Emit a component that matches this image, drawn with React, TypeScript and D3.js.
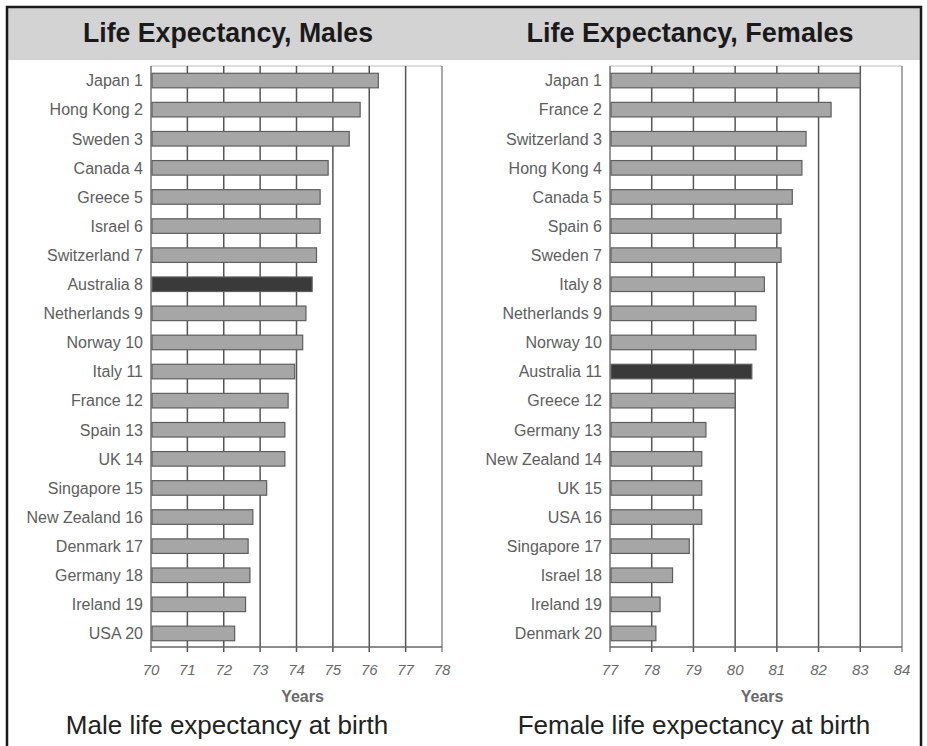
import React from "react";
import * as d3 from "d3";

const maleCountries = ["Japan 1","Hong Kong 2","Sweden 3","Canada 4","Greece 5","Israel 6","Switzerland 7","Australia 8","Netherlands 9","Norway 10","Italy 11","France 12","Spain 13","UK 14","Singapore 15","New Zealand 16","Denmark 17","Germany 18","Ireland 19","USA 20"];
const maleValues = [76.25,75.75,75.45,74.87,74.65,74.65,74.55,74.43,74.26,74.17,73.95,73.77,73.68,73.68,73.18,72.8,72.67,72.72,72.6,72.3];
const maleTicks = [70,71,72,73,74,75,76,77,78];

const femaleCountries = ["Japan 1","France 2","Switzerland 3","Hong Kong 4","Canada 5","Spain 6","Sweden 7","Italy 8","Netherlands 9","Norway 10","Australia 11","Greece 12","Germany 13","New Zealand 14","UK 15","USA 16","Singapore 17","Israel 18","Ireland 19","Denmark 20"];
const femaleValues = [83.0,82.3,81.7,81.6,81.37,81.1,81.1,80.7,80.5,80.5,80.4,80.0,79.3,79.2,79.2,79.2,78.9,78.5,78.2,78.1];
const femaleTicks = [77,78,79,80,81,82,83,84];

const titles = ["Life Expectancy, Males", "Life Expectancy, Females"];
const subtitles = ["Male life expectancy at birth", "Female life expectancy at birth"];
const axisTitle = "Years";

const FONT = "'Liberation Sans', Arial, sans-serif";

type PanelProps = {
  countries: string[];
  values: number[];
  ticks: number[];
  x0: number;
  x1: number;
  labelX: number;
  highlight: string;
};

function Panel({ countries, values, ticks, x0, x1, labelX, highlight }: PanelProps) {
  const top = 66;
  const bottom = 647;
  const x = d3.scaleLinear().domain([ticks[0], ticks[ticks.length - 1]]).range([x0, x1]);
  const y = d3.scaleBand<string>().domain(countries).range([top, bottom + 1]).paddingInner(0.5).paddingOuter(0.25);
  const bw = y.bandwidth();
  return (
    <g>
      <line x1={x0} x2={x1} y1={top} y2={top} stroke="#bbb" strokeWidth={1} />
      {ticks.map((t, i) => (
        <g key={t}>
          <line x1={x(t)} x2={x(t)} y1={top} y2={bottom + 5} stroke={i === 0 ? "#666" : "#444"} strokeWidth={1.5} opacity={i === ticks.length - 1 ? 0.6 : 0.9} />
          <text x={x(t)} y={675} textAnchor="middle" fontSize={15} fontStyle="italic" fill="#6a6a6a" fontFamily={FONT}>{t}</text>
        </g>
      ))}
      <line x1={x0} x2={x1} y1={bottom} y2={bottom} stroke="#666" strokeWidth={1.4} />
      {countries.map((c, i) => (
        <g key={c}>
          <rect x={x(ticks[0]) + 1} y={y(c)!} width={x(values[i]) - x(ticks[0]) - 1} height={bw}
            fill={c.startsWith(highlight) ? "#3a3a3a" : "#a6a6a6"} stroke="#5e5e5e" strokeWidth={1.2} />
          <text x={labelX} y={y(c)! + bw / 2} dy="0.36em" textAnchor="end" fontSize={16} fill="#5e5e5e" fontFamily={FONT}>{c}</text>
        </g>
      ))}
      <text x={(x0 + x1) / 2 + 6} y={702} textAnchor="middle" fontSize={16} fontWeight="bold" fill="#6a6a6a" fontFamily={FONT}>{axisTitle}</text>
    </g>
  );
}

export default function App() {
  return (
    <svg width={927} height={746} style={{ position: "absolute", left: 0, top: 0, background: "#fff" }}>
      <rect x={0} y={0} width={927} height={746} fill="#fff" />
      <rect x={7} y={7} width={914} height={53} fill="#d3d3d3" />
      <rect x={7} y={7} width={914} height={760} fill="none" stroke="#1a1a1a" strokeWidth={2.5} />
      <text x={228} y={42} textAnchor="middle" fontSize={27} fontWeight="bold" fill="#1a1a1a" fontFamily={FONT} textLength={290} lengthAdjust="spacingAndGlyphs">{titles[0]}</text>
      <text x={690} y={42} textAnchor="middle" fontSize={27} fontWeight="bold" fill="#1a1a1a" fontFamily={FONT} textLength={327} lengthAdjust="spacingAndGlyphs">{titles[1]}</text>
      <Panel countries={maleCountries} values={maleValues} ticks={maleTicks} x0={151} x1={442} labelX={143} highlight="Australia" />
      <Panel countries={femaleCountries} values={femaleValues} ticks={femaleTicks} x0={610} x1={902} labelX={602} highlight="Australia" />
      <text x={227} y={734} textAnchor="middle" fontSize={26} fill="#222" fontFamily={FONT}>{subtitles[0]}</text>
      <text x={694} y={734} textAnchor="middle" fontSize={26} fill="#222" fontFamily={FONT}>{subtitles[1]}</text>
    </svg>
  );
}
